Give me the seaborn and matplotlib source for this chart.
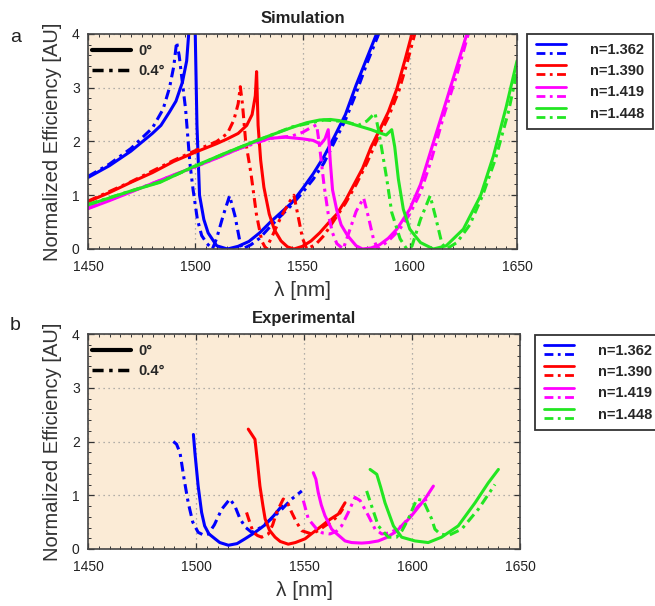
import numpy as np
import pandas as pd
import matplotlib
matplotlib.use("Agg")
import matplotlib.pyplot as plt
import seaborn as sns
from matplotlib.lines import Line2D
from matplotlib.legend_handler import HandlerBase
from matplotlib.ticker import MultipleLocator

# ---------------- data ----------------
labels_n = ["n=1.362", "n=1.390", "n=1.419", "n=1.448"]
colors = ["#0000ff", "#ff0000", "#ff00ff", "#22e622"]
angle_labels = ["0°", "0.4°"]

# Simulation, 0 deg (solid)
sim0_1362_x = [1450, 1460, 1470, 1480, 1484, 1488, 1491, 1494, 1496, 1497.5, 1499, 1500, 1500.8, 1502, 1504, 1506, 1510, 1515, 1520, 1525, 1530, 1535, 1540, 1545, 1550, 1555, 1560, 1565, 1570, 1575, 1580, 1586]
sim0_1362_y = [1.33, 1.55, 1.82, 2.15, 2.3, 2.55, 2.75, 3.1, 3.5, 4.3, 5.0, 4.0, 2.3, 1.0, 0.55, 0.3, 0.06, 0.0, 0.05, 0.14, 0.3, 0.5, 0.68, 0.86, 1.12, 1.4, 1.72, 2.1, 2.5, 3.05, 3.55, 4.15]
sim0_1390_x = [1450, 1460, 1470, 1480, 1490, 1500, 1510, 1515, 1520, 1524, 1526.5, 1528, 1528.6, 1529.3, 1530.5, 1532, 1534.5, 1537, 1540, 1543, 1546, 1550, 1554, 1558, 1562, 1566, 1570, 1574, 1578, 1582, 1586, 1590, 1594, 1598, 1602]
sim0_1390_y = [0.88, 1.05, 1.24, 1.42, 1.63, 1.8, 1.96, 2.05, 2.15, 2.3, 2.5, 2.85, 3.3, 2.3, 1.65, 1.15, 0.65, 0.35, 0.15, 0.04, 0.0, 0.05, 0.15, 0.3, 0.48, 0.65, 0.9, 1.2, 1.5, 1.9, 2.22, 2.55, 2.98, 3.55, 4.15]
sim0_1419_x = [1450, 1460, 1470, 1480, 1490, 1500, 1510, 1520, 1527, 1535, 1542, 1550, 1555, 1558.5, 1560.5, 1562, 1563, 1564, 1566, 1568, 1571, 1575, 1578, 1582, 1586, 1590, 1594, 1600, 1605, 1611, 1617, 1622, 1627]
sim0_1419_y = [0.75, 0.9, 1.06, 1.22, 1.38, 1.53, 1.69, 1.86, 1.98, 2.06, 2.08, 2.05, 2.02, 1.95, 2.05, 2.22, 1.6, 1.1, 0.72, 0.45, 0.25, 0.06, 0.0, 0.02, 0.08, 0.2, 0.37, 0.74, 1.2, 1.98, 2.75, 3.4, 4.05]
sim0_1448_x = [1450, 1460, 1470, 1483.6, 1499, 1515, 1530, 1545, 1552, 1558, 1563, 1567, 1572, 1577, 1582, 1586, 1589, 1591.6, 1593, 1594.7, 1597, 1600, 1605, 1611, 1617, 1625, 1633, 1639, 1645, 1650]
sim0_1448_y = [0.82, 0.95, 1.08, 1.24, 1.53, 1.8, 2.04, 2.26, 2.35, 2.4, 2.41, 2.39, 2.34, 2.28, 2.22, 2.16, 2.12, 2.22, 1.9, 1.3, 0.74, 0.37, 0.12, 0.0, 0.06, 0.37, 0.99, 1.73, 2.65, 3.5]

# Simulation, 0.4 deg (dash-dot)
sim4_1362_x = [1450, 1460, 1470, 1480, 1485, 1488, 1490, 1491.3, 1492.5, 1494, 1495.5, 1497.5, 1499, 1501, 1503, 1505.5, 1508, 1510, 1513, 1516, 1518.5, 1521, 1522, 1526, 1530, 1535, 1540, 1545, 1550, 1555, 1560, 1565, 1570, 1575, 1580, 1587]
sim4_1362_y = [1.35, 1.58, 1.87, 2.25, 2.6, 3.0, 3.4, 3.85, 3.6, 3.1, 2.6, 1.6, 1.1, 0.55, 0.25, 0.1, 0.0, 0.2, 0.62, 0.99, 0.62, 0.1, 0.0, 0.08, 0.2, 0.42, 0.62, 0.82, 1.05, 1.3, 1.6, 2.0, 2.4, 2.9, 3.45, 4.15]
sim4_1390_x = [1450, 1470, 1490, 1500, 1510, 1515, 1518, 1520, 1521, 1522, 1523.5, 1526, 1528.5, 1531, 1533, 1536, 1540, 1544, 1546, 1548, 1550, 1552, 1556, 1560, 1565, 1570, 1575, 1580, 1585, 1590, 1595, 1599, 1603]
sim4_1390_y = [0.89, 1.25, 1.65, 1.83, 2.0, 2.15, 2.4, 2.7, 3.02, 2.7, 2.0, 1.4, 0.65, 0.15, 0.0, 0.25, 0.6, 0.88, 1.0, 0.6, 0.2, 0.0, 0.08, 0.25, 0.55, 0.85, 1.2, 1.6, 2.05, 2.45, 2.95, 3.5, 4.1]
sim4_1419_x = [1450, 1480, 1500, 1520, 1535, 1545, 1550, 1554, 1556.6, 1558, 1560, 1562, 1564, 1566, 1569, 1572, 1575, 1578.5, 1581, 1583, 1585, 1590, 1595, 1600, 1605, 1610, 1616, 1622, 1628]
sim4_1419_y = [0.76, 1.22, 1.53, 1.86, 2.06, 2.1, 2.17, 2.26, 2.31, 1.9, 1.2, 0.65, 0.3, 0.1, 0.0, 0.35, 0.7, 0.95, 0.55, 0.2, 0.0, 0.15, 0.35, 0.65, 1.05, 1.65, 2.5, 3.25, 4.1]
sim4_1448_x = [1450, 1483.6, 1515, 1545, 1560, 1570, 1576, 1580, 1583.8, 1585.5, 1587, 1589.3, 1591.6, 1595.5, 1598.6, 1601, 1605, 1609.5, 1612, 1615, 1617, 1622, 1628, 1634, 1640, 1646, 1650]
sim4_1448_y = [0.83, 1.25, 1.8, 2.27, 2.4, 2.37, 2.3, 2.38, 2.53, 2.2, 1.85, 1.3, 0.68, 0.19, 0.0, 0.05, 0.55, 0.99, 0.6, 0.1, 0.0, 0.12, 0.45, 1.0, 1.68, 2.55, 3.3]

# Experimental, 0 deg (solid)
exp0_1362_x = [1498.8, 1499.5, 1501, 1502.6, 1504, 1506, 1508.8, 1511, 1515, 1519, 1522.7, 1527, 1532, 1536, 1539.7]
exp0_1362_y = [2.13, 1.79, 1.17, 0.68, 0.43, 0.28, 0.19, 0.12, 0.07, 0.1, 0.19, 0.3, 0.45, 0.62, 0.8]
exp0_1390_x = [1524.2, 1525.5, 1527.3, 1528.5, 1529.6, 1531, 1532, 1534, 1536.6, 1539, 1542.7, 1546, 1550.5, 1554, 1558.2, 1562, 1565.9, 1569]
exp0_1390_y = [2.23, 2.15, 2.04, 1.6, 1.17, 0.8, 0.56, 0.35, 0.22, 0.14, 0.09, 0.12, 0.19, 0.3, 0.43, 0.55, 0.65, 0.86]
exp0_1419_x = [1554.3, 1555.5, 1556.6, 1558, 1559.7, 1562.8, 1564.4, 1569, 1572, 1576.7, 1580, 1584.4, 1588, 1592.1, 1596, 1599.8, 1603, 1606, 1609.9]
exp0_1419_y = [1.42, 1.3, 1.05, 0.82, 0.62, 0.37, 0.31, 0.15, 0.12, 0.11, 0.12, 0.15, 0.21, 0.31, 0.45, 0.62, 0.78, 0.93, 1.17]
exp0_1448_x = [1580.6, 1583.7, 1585.5, 1587.5, 1591.4, 1595.2, 1601.4, 1607.5, 1613.7, 1621.4, 1629.2, 1635.3, 1640]
exp0_1448_y = [1.48, 1.39, 1.15, 0.86, 0.43, 0.22, 0.15, 0.12, 0.22, 0.43, 0.86, 1.23, 1.48]

# Experimental, 0.4 deg (dash-dot)
exp4_1362_x = [1489.5, 1491, 1492.6, 1494.5, 1496.4, 1498.5, 1501, 1503.5, 1505.7, 1508.5, 1511.9, 1515.7, 1518, 1520.4, 1523, 1525.8, 1530, 1536.6, 1540, 1544.3, 1549]
exp4_1362_y = [2.0, 1.95, 1.79, 1.3, 0.86, 0.5, 0.31, 0.26, 0.28, 0.45, 0.74, 0.93, 0.8, 0.56, 0.4, 0.31, 0.4, 0.62, 0.75, 0.93, 1.08]
exp4_1390_x = [1523.4, 1525, 1526.5, 1528.5, 1530.4, 1533.5, 1535.5, 1537.3, 1540.4, 1542.5, 1544.3, 1546.5, 1549, 1553.5, 1556.5, 1559.7, 1563, 1565.9, 1568]
exp4_1390_y = [0.68, 0.48, 0.31, 0.25, 0.22, 0.28, 0.45, 0.68, 0.93, 0.85, 0.68, 0.5, 0.34, 0.28, 0.34, 0.43, 0.52, 0.62, 0.75]
exp4_1419_x = [1549.7, 1552, 1555.9, 1558.5, 1562, 1565, 1567.4, 1570.5, 1573.6, 1576, 1579.8, 1582.9, 1586, 1590, 1595.2, 1599, 1602.9, 1606.8]
exp4_1419_y = [0.9, 0.56, 0.37, 0.3, 0.28, 0.33, 0.43, 0.68, 0.96, 0.9, 0.62, 0.37, 0.28, 0.3, 0.43, 0.6, 0.8, 0.93]
exp4_1448_x = [1579, 1581.3, 1584.4, 1589, 1592.9, 1595.5, 1598.3, 1602.2, 1605.2, 1607.5, 1609.1, 1610.6, 1613, 1616.8, 1623, 1630.7, 1638.4]
exp4_1448_y = [1.08, 0.8, 0.43, 0.22, 0.22, 0.35, 0.56, 0.93, 0.9, 0.7, 0.56, 0.37, 0.28, 0.25, 0.37, 0.74, 1.2]

x_ticks = [1450, 1500, 1550, 1600, 1650]
y_ticks = [0, 1, 2, 3, 4]

sim_solid = [(sim0_1362_x, sim0_1362_y), (sim0_1390_x, sim0_1390_y), (sim0_1419_x, sim0_1419_y), (sim0_1448_x, sim0_1448_y)]
sim_dash = [(sim4_1362_x, sim4_1362_y), (sim4_1390_x, sim4_1390_y), (sim4_1419_x, sim4_1419_y), (sim4_1448_x, sim4_1448_y)]
exp_solid = [(exp0_1362_x, exp0_1362_y), (exp0_1390_x, exp0_1390_y), (exp0_1419_x, exp0_1419_y), (exp0_1448_x, exp0_1448_y)]
exp_dash = [(exp4_1362_x, exp4_1362_y), (exp4_1390_x, exp4_1390_y), (exp4_1419_x, exp4_1419_y), (exp4_1448_x, exp4_1448_y)]

# ---------------- style ----------------
sns.set_style("ticks")
plt.rcParams["font.family"] = ["Liberation Sans", "DejaVu Sans"]
BG = "#fbebd6"
DASHDOT = (0, (3.2, 1.6, 1.0, 1.6))
LW = 2.2

fig = plt.figure(figsize=(6.55, 6.06), dpi=100)
W, H = 655, 606


def axes_px(l, t, r, b):
    return fig.add_axes([l / W, 1 - b / H, (r - l) / W, (b - t) / H])


ax_top = axes_px(88, 34, 517, 249)
ax_bot = axes_px(88, 334, 520, 549)


class PairHandler(HandlerBase):
    def create_artists(self, legend, orig_handle, xdescent, ydescent,
                       width, height, fontsize, trans):
        c = orig_handle.get_color()
        x0, y0 = -xdescent, -ydescent
        l1 = Line2D([x0, x0 + width], [y0 + height * 0.5 + 3.2] * 2, color=c,
                    lw=2.0, ls="-", transform=trans)
        l2 = Line2D([x0, x0 + width], [y0 + height * 0.5 - 3.2] * 2, color=c,
                    lw=2.0, ls=DASHDOT, transform=trans)
        return [l1, l2]


def draw_panel(ax, solid, dash, title):
    for (xs, ys), (xd, yd), c in zip(solid, dash, colors):
        sns.lineplot(x=np.array(xs), y=np.array(ys), ax=ax, color=c, lw=LW,
                     sort=False, estimator=None, legend=False)
        sns.lineplot(x=np.array(xd), y=np.array(yd), ax=ax, color=c, lw=LW,
                     linestyle=DASHDOT, sort=False, estimator=None, legend=False)
    ax.set_facecolor(BG)
    ax.set_xlim(1450, 1650)
    ax.set_ylim(0, 4)
    ax.set_xticks(x_ticks)
    ax.set_yticks(y_ticks)
    ax.xaxis.set_minor_locator(MultipleLocator(5))
    ax.yaxis.set_minor_locator(MultipleLocator(0.2))
    ax.tick_params(which="both", direction="in", top=True, right=True,
                   colors="#333333", labelcolor="#222222")
    ax.tick_params(which="major", length=4, width=0.9, labelsize=10, pad=6)
    ax.tick_params(axis="x", which="major", pad=8)
    ax.tick_params(which="minor", length=2, width=0.7)
    ax.grid(True, which="major", ls=(0, (1, 3)), color="#9a9a9a", lw=0.9)
    for s in ax.spines.values():
        s.set_color("#444444")
        s.set_linewidth(1.2)
    ax.set_xlabel("λ [nm]", fontsize=15, color="#333333", labelpad=5)
    ax.set_ylabel("Normalized Efficiency [AU]", fontsize=14.5, color="#333333", va="center")
    ax.yaxis.set_label_coords(-0.083, 0.5)
    ax.set_title(title, fontsize=12, fontweight="bold", color="#222222", pad=8)
    # angle legend
    ang = [Line2D([], [], color="black", lw=3.0, ls="-"),
           Line2D([], [], color="black", lw=2.5, ls=DASHDOT)]
    ax.legend(ang, angle_labels, loc="upper left", frameon=False,
              bbox_to_anchor=(4 / 429, 1 - 10 / 215),
              prop={"size": 10.5, "weight": "bold"}, handlelength=2.7,
              handletextpad=0.5, borderpad=0, borderaxespad=0,
              labelspacing=0.4)


draw_panel(ax_top, sim_solid, sim_dash, "Simulation")
draw_panel(ax_bot, exp_solid, exp_dash, "Experimental")


def n_legend(left, top):
    hs = [Line2D([], [], color=c) for c in colors]
    lg = fig.legend(hs, labels_n, loc="upper left",
                    bbox_to_anchor=(left / W, 1 - top / H),
                    handler_map={Line2D: PairHandler()},
                    prop={"size": 10.5, "weight": "bold"},
                    frameon=True, fancybox=False, edgecolor="#333333",
                    framealpha=1, borderaxespad=0, borderpad=0.6,
                    handlelength=2.1, handletextpad=1.6, labelspacing=0.5)
    lg.get_frame().set_linewidth(1.3)
    return lg


n_legend(527, 34)
n_legend(535, 335)

fig.text(10 / W, 1 - 38 / H, "a", fontsize=14, va="center", ha="left", color="#222222")
fig.text(10 / W, 1 - 325 / H, "b", fontsize=14, va="center", ha="left", color="#222222")

fig.savefig("out.png", dpi=100)
